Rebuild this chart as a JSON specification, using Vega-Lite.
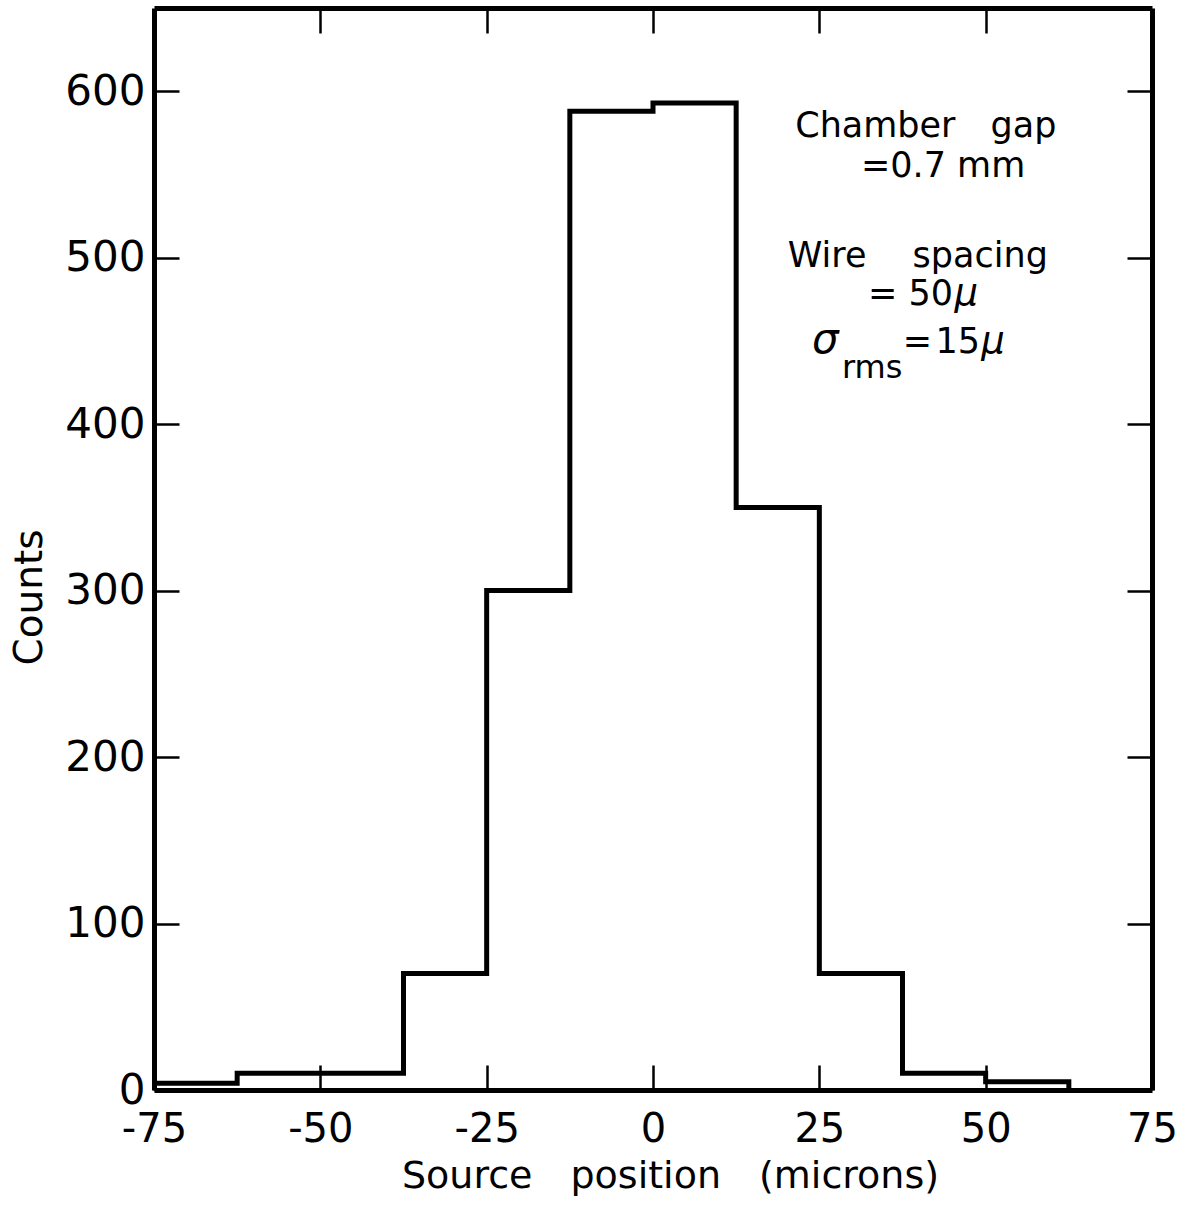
{
  "$schema": "https://vega.github.io/schema/vega-lite/v6.json",
  "width": 998,
  "height": 1082,
  "autosize": {"type": "none"},
  "padding": {"left": 154, "top": 8, "right": 42, "bottom": 117},
  "background": "white",
  "config": {
    "view": {"stroke": null},
    "font": "DejaVu Sans",
    "axis": {
      "grid": false,
      "domainColor": "black",
      "domainWidth": 5,
      "tickColor": "black",
      "tickWidth": 2.5,
      "tickSize": -25,
      "labelColor": "black",
      "labelFont": "DejaVu Sans",
      "labelFontSize": 40,
      "titleColor": "black",
      "titleFont": "DejaVu Sans",
      "titleFontSize": 36,
      "titleFontWeight": "normal",
      "labelFlush": false,
      "labelOverlap": false
    }
  },
  "datasets": {
    "hist": [
      {"edge": -75, "count": 4},
      {"edge": -62.5, "count": 10},
      {"edge": -37.5, "count": 70},
      {"edge": -25, "count": 300},
      {"edge": -12.5, "count": 588},
      {"edge": 0, "count": 593},
      {"edge": 12.5, "count": 350},
      {"edge": 25, "count": 70},
      {"edge": 37.5, "count": 10},
      {"edge": 50, "count": 5},
      {"edge": 62.5, "count": 0}
    ],
    "notes": [
      {"label": "Chamber\u2003gap", "x": 41.0, "y": 572.5, "kind": "center"},
      {"label": "=0.7 mm", "x": 43.6, "y": 548.5, "kind": "center"},
      {"label": "Wire\u2003\u00a0spacing", "x": 39.8, "y": 494.4, "kind": "center"},
      {"label": "= 50", "x": 45.1, "y": 471.5, "kind": "right"},
      {"label": "μ", "x": 45.3, "y": 471.5, "kind": "italic"},
      {"label": "σ", "x": 23.9, "y": 442.7, "kind": "sigma"},
      {"label": "rms", "x": 28.4, "y": 427.7, "kind": "sub"},
      {"label": "=\u200a15", "x": 49.15, "y": 442.7, "kind": "right"},
      {"label": "μ", "x": 49.35, "y": 442.7, "kind": "italic"}
    ]
  },
  "layer": [
    {
      "data": {"name": "hist"},
      "mark": {"type": "line", "interpolate": "step-after", "color": "black", "strokeWidth": 5, "strokeJoin": "miter"},
      "encoding": {
        "x": {
          "field": "edge", "type": "quantitative",
          "scale": {"domain": [-75, 75], "nice": false, "zero": false},
          "axis": {
            "orient": "bottom",
            "values": [-75, -50, -25, 0, 25, 50, 75],
            "labelExpr": "datum.value < 0 ? '-' + (-datum.value) : '' + datum.value",
            "labelPadding": 44,
            "title": "Source\u2003position\u2003(microns)",
            "titleX": 516,
            "titleY": 97,
            "titleAlign": "center",
            "titleBaseline": "alphabetic",
            "titleFontSize": 38
          }
        },
        "y": {
          "field": "count", "type": "quantitative",
          "scale": {"domain": [0, 650], "nice": false},
          "axis": {
            "orient": "left",
            "values": [0, 100, 200, 300, 400, 500, 600],
            "labelPadding": 34,
            "labelFontSize": 42,
            "title": "Counts",
            "titleX": -125,
            "titleY": 589,
            "titleAngle": -90,
            "titleAlign": "center",
            "titleBaseline": "middle",
            "titleFontSize": 39
          }
        }
      }
    },
    {
      "data": {"name": "notes"},
      "transform": [{"filter": "datum.kind === 'center'"}],
      "mark": {"type": "text", "align": "center", "baseline": "alphabetic", "fontSize": 35, "color": "black"},
      "encoding": {
        "x": {
          "field": "x", "type": "quantitative",
          "axis": {"orient": "top", "values": [-50, -25, 0, 25, 50], "labels": false, "title": null}
        },
        "y": {
          "field": "y", "type": "quantitative",
          "axis": {"orient": "right", "values": [100, 200, 300, 400, 500, 600], "labels": false, "title": null}
        },
        "text": {"field": "label"}
      }
    },
    {
      "data": {"name": "notes"},
      "transform": [{"filter": "datum.kind === 'right'"}],
      "mark": {"type": "text", "align": "right", "baseline": "alphabetic", "fontSize": 35, "color": "black"},
      "encoding": {
        "x": {"field": "x", "type": "quantitative", "axis": null},
        "y": {"field": "y", "type": "quantitative", "axis": null},
        "text": {"field": "label"}
      }
    },
    {
      "data": {"name": "notes"},
      "transform": [{"filter": "datum.kind === 'sub'"}],
      "mark": {"type": "text", "align": "left", "baseline": "alphabetic", "fontSize": 32, "color": "black"},
      "encoding": {
        "x": {"field": "x", "type": "quantitative", "axis": null},
        "y": {"field": "y", "type": "quantitative", "axis": null},
        "text": {"field": "label"}
      }
    },
    {
      "data": {"name": "notes"},
      "transform": [{"filter": "datum.kind === 'sigma'"}],
      "mark": {"type": "text", "align": "left", "baseline": "alphabetic", "fontSize": 42, "fontStyle": "italic", "color": "black"},
      "encoding": {
        "x": {"field": "x", "type": "quantitative", "axis": null},
        "y": {"field": "y", "type": "quantitative", "axis": null},
        "text": {"field": "label"}
      }
    },
    {
      "data": {"name": "notes"},
      "transform": [{"filter": "datum.kind === 'italic'"}],
      "mark": {"type": "text", "align": "left", "baseline": "alphabetic", "fontSize": 37, "fontStyle": "italic", "color": "black"},
      "encoding": {
        "x": {"field": "x", "type": "quantitative", "axis": null},
        "y": {"field": "y", "type": "quantitative", "axis": null},
        "text": {"field": "label"}
      }
    }
  ],
  "resolve": {"axis": {"x": "independent", "y": "independent"}}
}
